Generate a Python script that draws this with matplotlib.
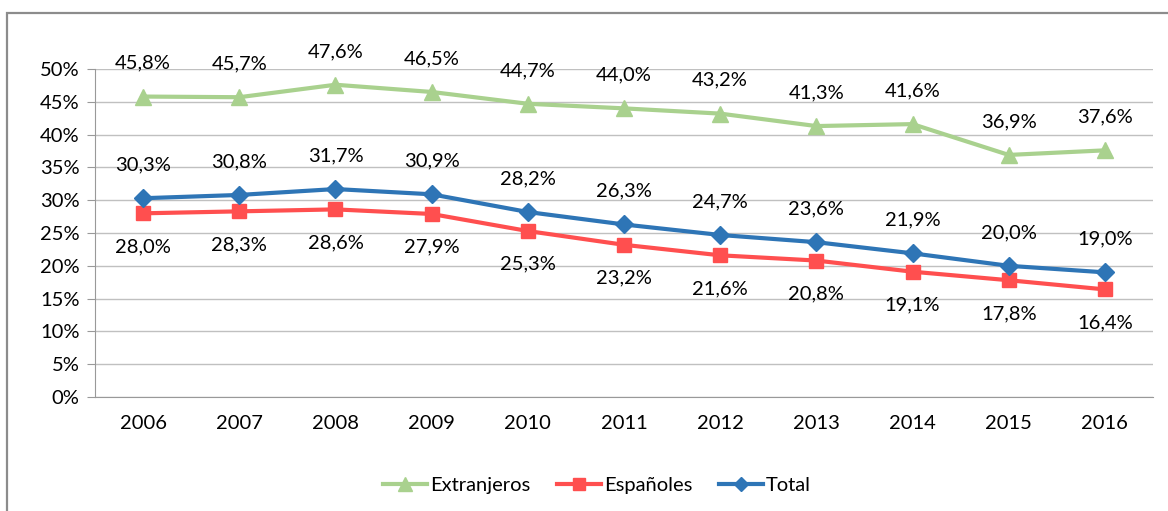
import matplotlib.pyplot as plt
from matplotlib.patches import Rectangle
from matplotlib.ticker import FuncFormatter

plt.rcParams['font.family'] = ['Lato', 'DejaVu Sans']

years = ["2006", "2007", "2008", "2009", "2010", "2011",
         "2012", "2013", "2014", "2015", "2016"]
extranjeros = [45.8, 45.7, 47.6, 46.5, 44.7, 44.0, 43.2, 41.3, 41.6, 36.9, 37.6]
espanoles = [28.0, 28.3, 28.6, 27.9, 25.3, 23.2, 21.6, 20.8, 19.1, 17.8, 16.4]
total = [30.3, 30.8, 31.7, 30.9, 28.2, 26.3, 24.7, 23.6, 21.9, 20.0, 19.0]

W, H = 1168, 511
fig = plt.figure(figsize=(W / 100, H / 100), dpi=100)
ax = fig.add_axes([95 / W, 1 - 397 / H, (1153 - 95) / W, (397 - 69) / H])

# outer chart border (cut off at right and bottom like the source image)
fig.patches.append(Rectangle((7 / W, -0.05), 1.2, 1 - 13 / H + 0.05,
                             transform=fig.transFigure, fill=False,
                             edgecolor="#8c8c8c", linewidth=1.6))

x = list(range(len(years)))
green, red, blue = "#a9d18e", "#ff4f4f", "#2e75b6"
fs = 14.5

ax.plot(x, extranjeros, color=green, lw=3, marker="^", ms=12, label="Extranjeros", zorder=3)
ax.plot(x, espanoles, color=red, lw=3, marker="s", ms=10, label="Españoles", zorder=3)
ax.plot(x, total, color=blue, lw=3, marker="D", ms=9, label="Total", zorder=4)

fmt = lambda v: f"{v:.1f}%".replace(".", ",")
for i in x:
    ax.annotate(fmt(extranjeros[i]), (i, extranjeros[i]), xytext=(0, 24),
                textcoords="offset points", ha="center", va="center", fontsize=fs)
    ax.annotate(fmt(total[i]), (i, total[i]), xytext=(0, 24),
                textcoords="offset points", ha="center", va="center", fontsize=fs)
    ax.annotate(fmt(espanoles[i]), (i, espanoles[i]), xytext=(0, -24),
                textcoords="offset points", ha="center", va="center", fontsize=fs)

ax.set_xlim(-0.5, len(years) - 0.5)
ax.set_ylim(0, 50)
ax.set_yticks(range(0, 51, 5))
ax.yaxis.set_major_formatter(FuncFormatter(lambda v, p: f"{int(v)}%"))
ax.set_xticks(x)
ax.set_xticklabels(years)
ax.grid(axis="y", color="#c0c0c0", lw=1)
ax.set_axisbelow(True)
for s in ["top", "right"]:
    ax.spines[s].set_visible(False)
ax.spines["left"].set_color("#999999")
ax.spines["bottom"].set_color("#999999")
ax.tick_params(axis="y", length=6, color="#999999", labelsize=fs, pad=5)
ax.tick_params(axis="x", length=0, labelsize=fs, pad=13)

fig.legend(loc="center", bbox_to_anchor=(597 / W, 1 - 485 / H), ncol=3,
           frameon=False, fontsize=fs, handlelength=2.2, handletextpad=0.15,
           columnspacing=1.3, markerscale=0.8)

fig.savefig("out.png", dpi=100)
